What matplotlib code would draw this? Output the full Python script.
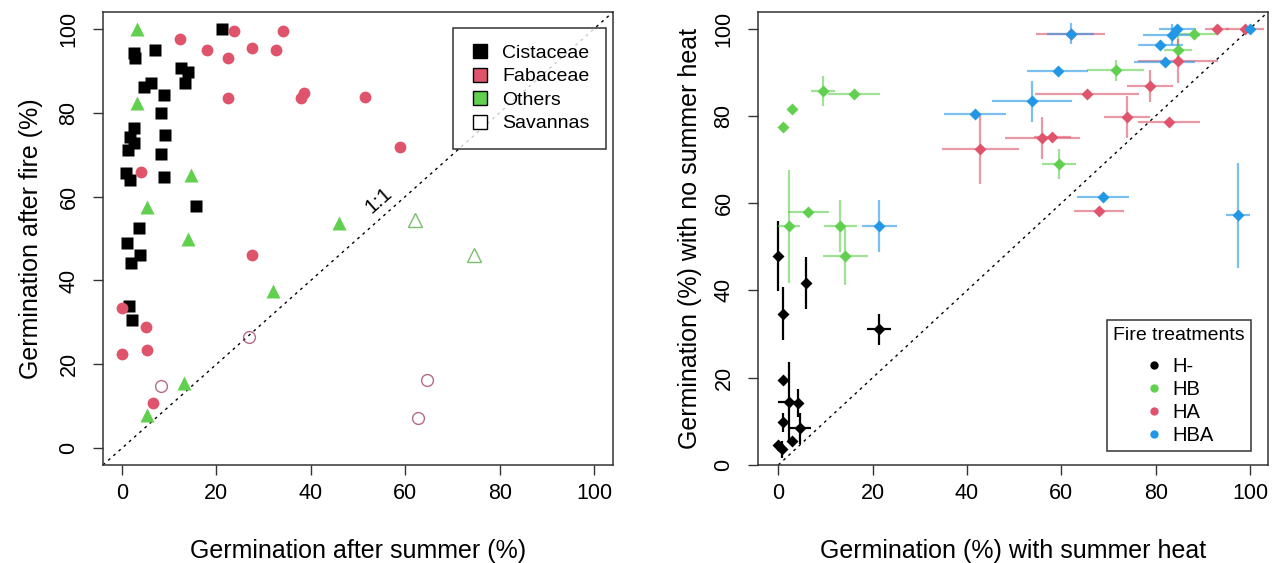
import matplotlib

matplotlib.use("Agg")
import matplotlib.pyplot as plt  # noqa: E402
from matplotlib.colors import to_rgba  # noqa: E402
from matplotlib.lines import Line2D  # noqa: E402

plt.rcParams["font.family"] = ["Liberation Sans", "DejaVu Sans"]

BLACK = "#000000"
RED = "#DF536B"
GREEN = "#61D04F"
BLUE = "#2297E6"

# ---- left panel: germination after summer vs after fire, by family ----
cist_x = [21.2, 2.5, 2.7, 7.1, 12.6, 14.1, 13.3, 4.7, 6.1, 8.9, 8.3, 2.5, 1.8, 2.5,
          1.3, 9.2, 8.3, 0.8, 1.7, 8.9, 15.6, 3.7, 1.0, 3.8, 1.9, 1.5, 2.1]
cist_y = [100.0, 94.3, 93.0, 95.0, 90.6, 89.8, 87.0, 86.2, 87.0, 84.3, 79.9, 76.4, 74.3, 72.8,
          71.2, 74.6, 70.2, 65.6, 64.0, 64.7, 57.8, 52.4, 48.9, 46.1, 44.1, 34.0, 30.6]

fab_x = [12.2, 23.8, 34.1, 18.0, 22.5, 27.5, 32.6, 22.5, 38.0, 38.5, 51.5, 58.8, 4.0,
         27.5, 0.1, 5.0, 0.1, 5.4, 6.6]
fab_y = [97.5, 99.5, 99.5, 95.0, 93.0, 95.4, 95.0, 83.5, 83.5, 84.8, 83.7, 71.8, 65.9,
         46.1, 33.4, 29.0, 22.5, 23.5, 10.8]

oth_x = [3.2, 3.2, 14.6, 5.4, 13.9, 45.9, 31.9, 13.1, 5.4]
oth_y = [100.0, 82.2, 65.1, 57.4, 50.0, 53.6, 37.4, 15.6, 8.0]

# savanna species (open symbols)
sav_fab_x = [26.9, 8.2, 64.6, 62.8]
sav_fab_y = [26.5, 14.8, 16.2, 7.3]
sav_oth_x = [62.0, 74.5]
sav_oth_y = [54.4, 46.1]

families = ["Cistaceae", "Fabaceae", "Others", "Savannas"]

# ---- right panel: with vs without summer heat, by fire treatment ----
hm_x = [0.0, 5.9, 0.9, 21.4, 0.9, 2.3, 4.1, 0.9, 4.6, 3.0, 0.0, 0.7]
hm_y = [47.8, 41.7, 34.7, 31.1, 19.5, 14.5, 14.3, 9.8, 8.4, 5.6, 4.6, 3.6]
hm_xe = [0.0, 0.0, 0.0, 2.5, 0.0, 2.3, 0.0, 0.0, 2.4, 0.0, 0.0, 0.0]
hm_ye = [8.0, 6.0, 6.0, 3.6, 0.0, 9.0, 3.2, 2.2, 3.5, 0.0, 0.0, 2.0]

hb_x = [0.9, 3.0, 9.5, 16.0, 6.4, 2.3, 13.1, 14.2, 59.5, 71.5, 84.7, 88.1]
hb_y = [77.4, 81.5, 85.7, 84.9, 58.0, 54.7, 54.7, 47.8, 69.0, 90.4, 95.1, 98.8]
hb_xe = [0.0, 0.0, 2.5, 5.5, 4.3, 2.3, 3.5, 4.8, 3.5, 6.0, 3.0, 5.0]
hb_ye = [0.0, 0.0, 3.5, 0.0, 0.0, 13.0, 6.0, 6.5, 3.4, 2.4, 3.5, 0.0]

ha_x = [62.0, 42.8, 56.0, 58.1, 65.5, 73.9, 78.8, 82.8, 67.9, 84.7, 93.0, 98.9]
ha_y = [98.8, 72.5, 74.9, 75.1, 84.9, 79.7, 86.8, 78.6, 58.1, 92.5, 99.8, 99.8]
ha_xe = [7.3, 8.2, 8.0, 4.0, 11.0, 4.8, 4.8, 6.6, 5.3, 8.5, 2.5, 4.0]
ha_ye = [0.0, 8.0, 4.8, 0.0, 0.0, 4.8, 3.7, 0.0, 0.0, 5.0, 0.0, 0.0]

hba_x = [62.0, 84.6, 83.4, 100.0, 81.0, 81.9, 59.2, 53.7, 41.7, 68.9, 97.5, 21.4]
hba_y = [98.8, 99.9, 98.6, 99.8, 96.3, 92.3, 90.2, 83.3, 80.5, 61.4, 57.2, 54.7]
hba_xe = [5.0, 4.0, 6.0, 0.0, 4.8, 6.5, 6.5, 8.5, 6.6, 5.5, 2.5, 3.7]
hba_ye = [2.4, 0.0, 2.4, 0.0, 0.0, 0.0, 0.0, 4.8, 0.0, 0.0, 12.0, 6.0]

treatments = ["H-", "HB", "HA", "HBA"]

TICKS = [0, 20, 40, 60, 80, 100]

W, H = 1281, 563
fig = plt.figure(figsize=(W / 100, H / 100), dpi=100)


def px_axes(x0, y0, x1, y1):
    return fig.add_axes([x0 / W, 1 - y1 / H, (x1 - x0) / W, (y1 - y0) / H])


def style(ax):
    ax.set_xticks(TICKS)
    ax.set_yticks(TICKS)
    ax.tick_params(length=7, width=1, labelsize=15.5, pad=6, color="#333333")
    ax.tick_params(axis="y", labelrotation=90, pad=10)
    for lab in ax.get_yticklabels():
        lab.set_va("center")
    for s in ax.spines.values():
        s.set_linewidth(1.1)
        s.set_color("#333333")


ax1 = px_axes(103, 12, 613, 465)
ax2 = px_axes(758, 12, 1268, 465)

# left panel
ax1.axline((0, 0), (1, 1), color="black", lw=1, ls=(0, (2, 3)), zorder=1)
ax1.plot(cist_x, cist_y, "s", color=BLACK, ms=9, mec="none", zorder=3)
ax1.plot(fab_x, fab_y, "o", color=RED, ms=8.5, mec="none", zorder=3)
ax1.plot(oth_x, oth_y, "^", color=GREEN, ms=9.5, mec="none", zorder=3)
ax1.plot(sav_fab_x, sav_fab_y, "o", mfc="none", mec=to_rgba("#9E3B55", 0.75), mew=1, ms=8.5, zorder=3)
ax1.plot(sav_oth_x, sav_oth_y, "^", mfc="none", mec=to_rgba("#4EA83E", 0.75), mew=1, ms=10, zorder=3)
ax1.text(54.4, 59.1, "1:1", rotation=41.5, fontsize=15, ha="center", va="center")

ax1.set_xlim(-4, 104)
ax1.set_ylim(-4, 104)
style(ax1)
ax1.set_xlabel("Germination after summer (%)", fontsize=18, labelpad=25)
ax1.set_ylabel("Germination after fire (%)", fontsize=18, labelpad=11)

fam_faces = [BLACK, RED, GREEN, "white"]
fam_handles = [Line2D([], [], ls="none", marker="s", ms=10, mfc=fc, mec="black", mew=1)
               for fc in fam_faces]
leg1 = ax1.legend(fam_handles, families, loc="upper left", bbox_to_anchor=(0.686, 0.965),
                  borderaxespad=0, fontsize=14, frameon=True, fancybox=False,
                  handlelength=1.1, handletextpad=0.6, borderpad=0.85, labelspacing=0.3)
leg1.get_frame().set_edgecolor("black")
leg1.get_frame().set_linewidth(1.1)

# right panel
ax2.axline((0, 0), (1, 1), color="black", lw=1, ls=(0, (2, 3)), zorder=1)
groups = [
    (hm_x, hm_y, hm_xe, hm_ye, BLACK, 1.0),
    (hb_x, hb_y, hb_xe, hb_ye, GREEN, 0.6),
    (ha_x, ha_y, ha_xe, ha_ye, RED, 0.6),
    (hba_x, hba_y, hba_xe, hba_ye, BLUE, 0.6),
]
for gx, gy, gxe, gye, col, alpha in groups:
    ax2.errorbar(gx, gy, xerr=gxe, yerr=gye, fmt="none", ecolor=to_rgba(col, alpha),
                 elinewidth=1.6, capsize=0, zorder=2)
    ax2.plot(gx, gy, "D", color=col, ms=6.5, mec="none", zorder=3)

ax2.set_xlim(-4.3, 103.8)
ax2.set_ylim(0, 103.8)
style(ax2)
ax2.set_xlabel("Germination (%) with summer heat", fontsize=18, labelpad=25)
ax2.set_ylabel("Germination (%) with no summer heat", fontsize=18, labelpad=8)

trt_handles = [Line2D([], [], ls="none", marker="o", ms=6, mfc=c, mec="none")
               for c in [BLACK, GREEN, RED, BLUE]]
leg2 = ax2.legend(trt_handles, treatments, title="Fire treatments", loc="lower right",
                  bbox_to_anchor=(0.966, 0.03), borderaxespad=0, fontsize=14.5,
                  title_fontsize=14, alignment="center", frameon=True, fancybox=False,
                  handlelength=0.93, handletextpad=0.46, borderpad=0.3, labelspacing=0.2)
# a little more room between the title and the entries
leg2._legend_box.sep = 0.2 * 14.5 + 7
leg2.get_frame().set_edgecolor("black")
leg2.get_frame().set_linewidth(1.1)

fig.savefig("out.png", dpi=100, facecolor="white")
